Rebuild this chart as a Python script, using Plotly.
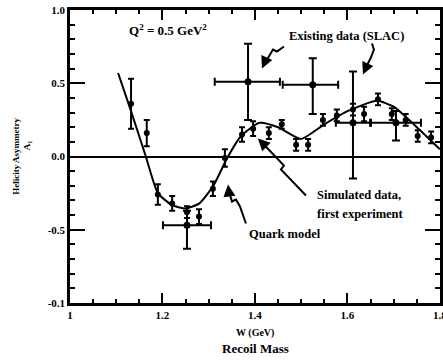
import plotly.graph_objects as go

# Simulated data, first experiment
sim_w = [1.132, 1.166, 1.190, 1.221, 1.253, 1.279, 1.309, 1.335, 1.372, 1.396, 1.430, 1.458,
         1.489, 1.515, 1.547, 1.577, 1.612, 1.636, 1.666, 1.696, 1.726, 1.752, 1.781]
sim_a = [0.36, 0.16, -0.26, -0.32, -0.38, -0.41, -0.22, -0.01, 0.15, 0.19, 0.16, 0.22,
         0.08, 0.08, 0.25, 0.28, 0.32, 0.29, 0.39, 0.29, 0.25, 0.14, 0.13]
sim_err = [0.17, 0.09, 0.07, 0.05, 0.04, 0.05, 0.05, 0.06, 0.05, 0.05, 0.04, 0.03,
           0.04, 0.04, 0.04, 0.04, 0.04, 0.05, 0.04, 0.04, 0.04, 0.04, 0.04]

# Existing data (SLAC)
slac_w = [1.253, 1.385, 1.525, 1.612, 1.705]
slac_a = [-0.47, 0.51, 0.49, 0.23, 0.23]
slac_wlo = [0.052, 0.072, 0.065, 0.037, 0.054]
slac_whi = [0.052, 0.069, 0.055, 0.037, 0.054]
slac_alo = [0.16, 0.26, 0.20, 0.38, 0.12]
slac_ahi = [0.10, 0.26, 0.18, 0.35, 0.08]

# Quark model curve
qm_w = [1.104, 1.132, 1.164, 1.19, 1.22, 1.25, 1.28, 1.31, 1.34, 1.37, 1.41, 1.45,
        1.50, 1.55, 1.60, 1.664, 1.70, 1.75, 1.80]
qm_a = [0.57, 0.31, 0.0, -0.25, -0.33, -0.355, -0.32, -0.20, -0.01, 0.14, 0.23, 0.20,
        0.12, 0.22, 0.31, 0.38, 0.34, 0.20, 0.05]

y_tickvals = [-1, -0.5, 0, 0.5, 1]
y_ticktext = ["-0.1", "-0.5", "0.0", "0.5", "1.0"]
x_tickvals = [1, 1.2, 1.4, 1.6, 1.8]
x_ticktext = ["1", "1.2", "1.4", "1.6", "1.8"]

FONT = "Liberation Serif"

fig = go.Figure()

fig.add_trace(go.Scatter(x=qm_w, y=qm_a, mode="lines",
                         line=dict(color="black", width=2, shape="spline", smoothing=0.55),
                         showlegend=False, hoverinfo="skip"))

fig.add_trace(go.Scatter(x=sim_w, y=sim_a, mode="markers",
                         marker=dict(color="black", size=6),
                         error_y=dict(type="data", array=sim_err, color="black", thickness=2, width=3),
                         showlegend=False))

fig.add_trace(go.Scatter(x=slac_w, y=slac_a, mode="markers",
                         marker=dict(color="black", size=7),
                         error_y=dict(type="data", array=slac_ahi, arrayminus=slac_alo, symmetric=False,
                                      color="black", thickness=2, width=4),
                         error_x=dict(type="data", array=slac_whi, arrayminus=slac_wlo, symmetric=False,
                                      color="black", thickness=2, width=4),
                         showlegend=False))


def px2d(px, py):
    return 1 + (px - 70) / 370 * 0.8, (155 - py) / 146.5


def path(points):
    s = ""
    for i, (px, py) in enumerate(points):
        x, y = px2d(px, py)
        s += ("M" if i == 0 else " L") + f"{x:.4f},{y:.4f}"
    return s


arrow_paths = [
    [(284, 45), (277, 50), (273, 48), (266, 60)],
    [(372, 42), (374, 48), (371, 56), (366, 66)],
    [(306, 194), (281, 168), (284, 164), (262, 141)],
    [(246, 222), (240, 205), (236, 198), (232, 200), (229, 190)],
]
shapes = []
for p in arrow_paths:
    shapes.append(dict(type="path", path=path(p), xref="x", yref="y",
                       line=dict(color="black", width=2)))

annotations = []
# arrow heads
for tail, tip in [((266, 58), (262, 67)), ((367, 64), (363, 73)), ((263, 142), (258, 137)), ((229, 191), (228, 183))]:
    tx, ty = px2d(*tip)
    annotations.append(dict(x=tx, y=ty, xref="x", yref="y", ax=tail[0] - tip[0], ay=tail[1] - tip[1],
                            showarrow=True, arrowhead=2, arrowsize=1.2, arrowwidth=2, arrowcolor="black",
                            text="", standoff=0))


def txt(t, px, py, size=12, anchor="center"):
    x, y = px2d(px, py)
    annotations.append(dict(x=x, y=y, xref="x", yref="y", text=t, showarrow=False,
                            font=dict(family=FONT, size=size, color="black", weight="bold"),
                            xanchor=anchor, yanchor="middle"))


txt("Q<sup>2</sup> = 0.5 GeV<sup>2</sup>", 127, 28, 13, "left")
txt("Existing data (SLAC)", 287, 34, 12.5, "left")
txt("Simulated data,", 315, 193, 12.5, "left")
txt("first experiment", 315, 212, 12.5, "left")
txt("Quark model", 247, 232, 12.5, "left")

annotations.append(dict(x=0.5, y=-0.102, xref="paper", yref="paper", text="W (GeV)", showarrow=False,
                        font=dict(family=FONT, size=10, color="black", weight="bold"), yanchor="middle"))
annotations.append(dict(x=0.5, y=-0.154, xref="paper", yref="paper", text="Recoil Mass", showarrow=False,
                        font=dict(family=FONT, size=13, color="black", weight="bold"), yanchor="middle"))
annotations.append(dict(x=-0.148, y=0.5, xref="paper", yref="paper", text="Helicity Asymmetry", showarrow=False,
                        textangle=-90, font=dict(family=FONT, size=9, color="black", weight="bold"),
                        xanchor="center", yanchor="middle"))
annotations.append(dict(x=-0.115, y=0.54, xref="paper", yref="paper", text="A<sub>1</sub>", showarrow=False,
                        textangle=-90, font=dict(family=FONT, size=9, color="black", weight="bold"),
                        xanchor="center", yanchor="middle"))

axis_common = dict(showline=True, linecolor="black", linewidth=2.5, mirror="allticks",
                   ticks="inside", tickcolor="black", tickwidth=1.5, showgrid=False,
                   ticklabeloverflow="allow",
                   tickfont=dict(family=FONT, size=11, color="black", weight="bold"))

fig.update_layout(
    width=443, height=360,
    margin=dict(l=70, r=3, t=10, b=57, autoexpand=False),
    paper_bgcolor="white", plot_bgcolor="white",
    font=dict(family=FONT, color="black", weight="bold"),
    shapes=shapes, annotations=annotations,
    xaxis=dict(range=[1, 1.8002], tickvals=x_tickvals, ticktext=x_ticktext, ticklen=10,
               zeroline=False, minor=dict(dtick=0.05, ticklen=4, tickcolor="black", ticks="inside"),
               **axis_common),
    yaxis=dict(range=[-1, 1], tickvals=y_tickvals, ticktext=y_ticktext, ticklen=15,
               zeroline=True, zerolinecolor="black", zerolinewidth=1.5,
               minor=dict(dtick=0.1, ticklen=5, tickcolor="black", ticks="inside"),
               **axis_common),
)

fig.write_html("out.html")
